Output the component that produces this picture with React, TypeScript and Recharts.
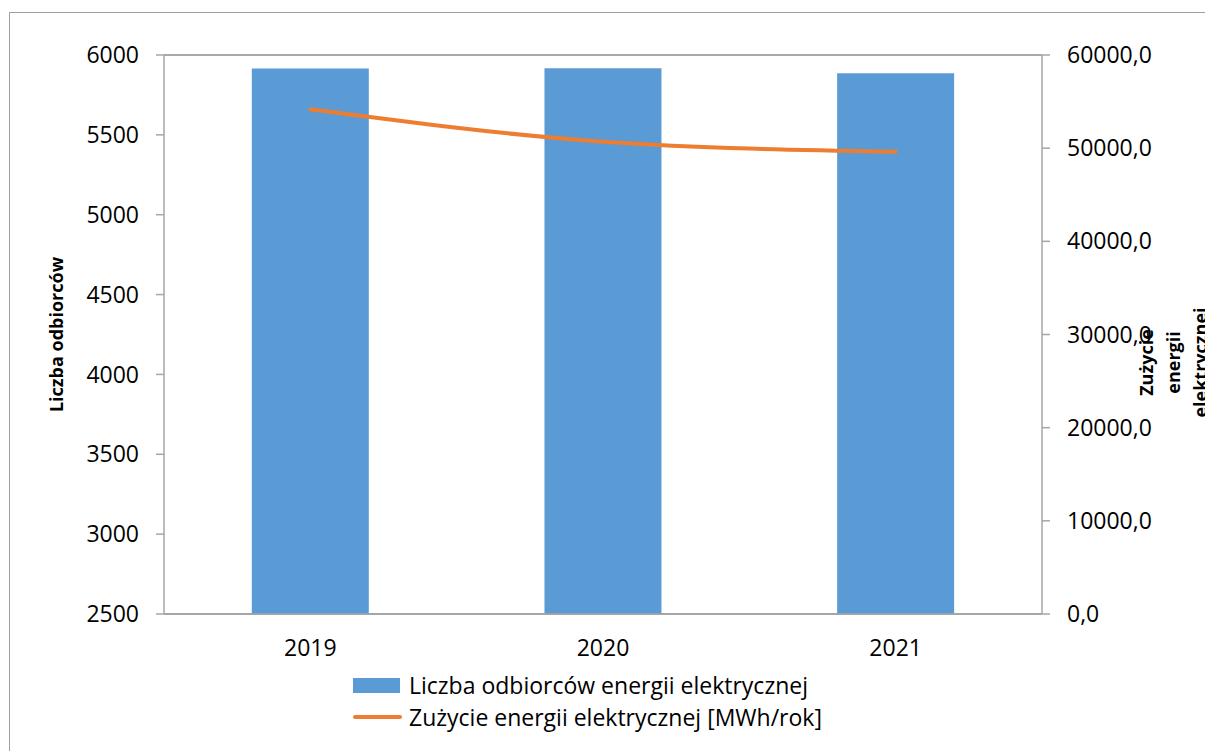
import React from 'react';
import {
  ComposedChart, Bar, Line, XAxis, YAxis, CartesianGrid,
} from 'recharts';

const years = ['2019', '2020', '2021'];
const odbiorcy = [5915, 5917, 5885];
const zuzycie = [54170, 50700, 49620];
const leftTicks = [2500, 3000, 3500, 4000, 4500, 5000, 5500, 6000];
const rightTicks = [0, 10000, 20000, 30000, 40000, 50000, 60000];

const BAR_NAME = 'Liczba odbiorców energii elektrycznej';
const LINE_NAME = 'Zużycie energii elektrycznej [MWh/rok]';

const FONT = '"Open Sans", sans-serif';
const BLUE = '#5B9BD5';
const ORANGE = '#ED7D31';
const AXIS = '#a6a6a6';

const data = years.map((y, i) => ({
  year: y,
  odbiorcy: odbiorcy[i],
  zuzycie: zuzycie[i],
}));

const tickStyle = { fontSize: 23, fill: '#000', fontFamily: FONT };

function RightAxisLabel({ viewBox }: any) {
  const cy = viewBox.y + viewBox.height / 2 + 28;
  const lines = ['Zużycie', 'energii', 'elektrycznej'];
  return (
    <g>
      {lines.map((t, i) => {
        const x = 1146 + i * 27;
        return (
          <text
            key={t}
            x={x}
            y={cy}
            transform={`rotate(-90 ${x} ${cy})`}
            textAnchor="middle"
            dominantBaseline="central"
            fontFamily={FONT}
            fontSize={18}
            fontWeight="bold"
            fill="#000"
          >
            {t}
          </text>
        );
      })}
    </g>
  );
}

function LegendBox() {
  return (
    <div style={{ position: 'absolute', left: 353, top: 669, fontFamily: FONT, fontSize: 23, color: '#000', lineHeight: '32px', whiteSpace: 'nowrap' }}>
      <div style={{ display: 'flex', alignItems: 'center' }}>
        <span style={{ width: 47, height: 15, background: BLUE, display: 'inline-block', marginRight: 9 }} />
        {BAR_NAME}
      </div>
      <div style={{ display: 'flex', alignItems: 'center' }}>
        <span style={{ width: 49, height: 4, background: ORANGE, borderRadius: 2, display: 'inline-block', marginRight: 7 }} />
        {LINE_NAME}
      </div>
    </div>
  );
}

export default function App() {
  return (
    <div style={{ position: 'absolute', left: 0, top: 0, width: 1205, height: 751, overflow: 'hidden', background: '#fff' }}>
      <div style={{ position: 'absolute', left: 9, top: 12, width: 1300, height: 900, border: '1px solid #a0a0a0', boxSizing: 'border-box' }} />
      <ComposedChart
        width={1205}
        height={751}
        data={data}
        margin={{ top: 55, right: 63, bottom: 107, left: 64 }}
        barCategoryGap="30%"
        style={{ position: 'absolute', left: 0, top: 0 }}
      >
        <CartesianGrid vertical={false} stroke="#8c8c8c" strokeWidth={1.3} />
        <XAxis
          dataKey="year"
          height={30}
          tickLine={false}
          axisLine={{ stroke: AXIS, strokeWidth: 1.5 }}
          tick={tickStyle}
          tickMargin={20}
        />
        <YAxis
          yAxisId="left"
          width={100}
          domain={[2500, 6000]}
          ticks={leftTicks}
          interval={0}
          tick={tickStyle}
          tickSize={8}
          tickMargin={17}
          tickLine={{ stroke: AXIS, strokeWidth: 1.5 }}
          axisLine={{ stroke: AXIS, strokeWidth: 1.5 }}
          allowDataOverflow
          label={{
            value: 'Liczba odbiorców',
            angle: -90,
            position: 'insideLeft',
            dx: -12,
            style: { fontFamily: FONT, fontSize: 18, fontWeight: 'bold', fill: '#000', textAnchor: 'middle' },
          }}
        />
        <YAxis
          yAxisId="right"
          orientation="right"
          width={100}
          domain={[0, 60000]}
          ticks={rightTicks}
          interval={0}
          tick={tickStyle}
          tickSize={8}
          tickMargin={17}
          tickLine={{ stroke: AXIS, strokeWidth: 1.5 }}
          axisLine={{ stroke: AXIS, strokeWidth: 1.5 }}
          tickFormatter={(v: number) => v.toFixed(1).replace('.', ',')}
          label={<RightAxisLabel />}
        />
        <Bar
          yAxisId="left"
          dataKey="odbiorcy"
          name={BAR_NAME}
          fill={BLUE}
          isAnimationActive={false}
        />
        <Line
          yAxisId="right"
          type="monotone"
          dataKey="zuzycie"
          name={LINE_NAME}
          stroke={ORANGE}
          strokeWidth={4}
          strokeLinecap="round"
          dot={false}
          isAnimationActive={false}
        />
      </ComposedChart>
      <LegendBox />
    </div>
  );
}
